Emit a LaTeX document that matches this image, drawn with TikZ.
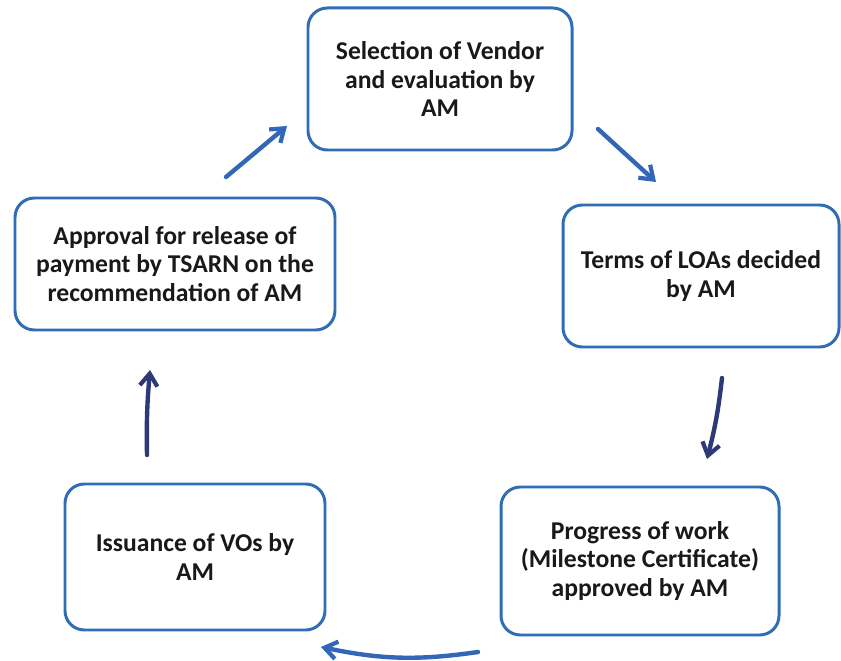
\documentclass[tikz,border=0pt]{standalone}
\usepackage{fontspec}
\setmainfont{Carlito}
\usetikzlibrary{arrows.meta}
\definecolor{boxblue}{HTML}{2F6DB5}
\definecolor{arrowblue}{HTML}{3266B8}
\definecolor{arrownavy}{HTML}{2E3A78}

\begin{document}
\begin{tikzpicture}[x=0.02cm, y=-0.02cm,
  every node/.style={font=\bfseries\fontsize{14.6}{16}\selectfont, text=black!90, align=center},
  stagebox/.style={draw=boxblue, line width=1.7pt, rounded corners=11pt, fill=white},
  flow/.style={line width=2.5pt, line cap=round, -{Straight Barb[length=7pt, width=10pt, line width=2.4pt]}}]
\useasboundingbox (0,0) rectangle (841,661);
% stages of the cycle
\node[stagebox, minimum width=264*0.02cm, minimum height=142*0.02cm] (vendor) at (440,79) {Selection of Vendor\\and evaluation by\\AM};
\node[stagebox, minimum width=276*0.02cm, minimum height=142*0.02cm] (loa) at (701,276) {Terms of LOAs decided\\by AM};
\node[stagebox, minimum width=278*0.02cm, minimum height=148*0.02cm] (progress) at (640,561) {Progress of work\\(Milestone Certificate)\\approved by AM};
\node[stagebox, minimum width=260*0.02cm, minimum height=146*0.02cm] (vos) at (195,557) {Issuance of VOs by\\AM};
\node[stagebox, minimum width=320*0.02cm, minimum height=132*0.02cm] (release) at (175,264) {Approval for release of\\payment by TSARN on the\\recommendation of AM};
% free arrow ends
\coordinate (a1s) at (226,177); \coordinate (a1e) at (287,126);
\coordinate (a2s) at (598,129); \coordinate (a2e) at (656,182);
\coordinate (a3s) at (722,378); \coordinate (a3e) at (707,459);
\coordinate (a4s) at (478,652); \coordinate (a4e) at (321,647);
\coordinate (a5s) at (147,455); \coordinate (a5e) at (150,370);
\draw[flow, arrowblue] (a1s) -- (a1e);
\draw[flow, arrowblue] (a2s) -- (a2e);
\draw[flow, arrownavy] (a3s) to[bend left=4] (a3e);
\draw[flow, arrowblue] (a4s) to[bend left=10] (a4e);
\draw[flow, arrownavy] (a5s) to[bend left=3] (a5e);
\end{tikzpicture}
\end{document}
